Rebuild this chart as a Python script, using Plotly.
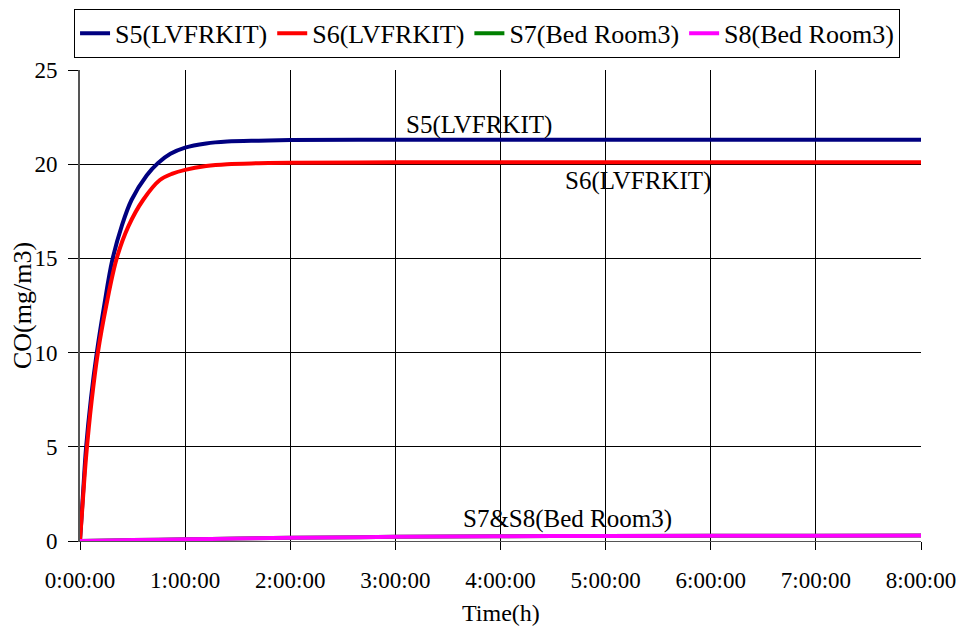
import plotly.graph_objs as go

# Time in hours, CO concentration in mg/m3
t_s5 = [0, 0.032, 0.057, 0.105, 0.16, 0.23, 0.307, 0.396, 0.49, 0.634, 0.74, 0.86, 1.0, 1.2, 1.4, 1.7, 2.0, 3, 4, 5, 6, 7, 8]
co_s5 = [0, 2.8, 4.9, 7.6, 10.0, 12.5, 14.9, 16.7, 18.1, 19.4, 20.05, 20.55, 20.88, 21.1, 21.2, 21.25, 21.28, 21.3, 21.3, 21.3, 21.3, 21.3, 21.3]

t_s6 = [0, 0.034, 0.06, 0.11, 0.17, 0.25, 0.349, 0.46, 0.60, 0.76, 0.88, 1.0, 1.2, 1.4, 1.7, 2.0, 3, 4, 5, 6, 7, 8]
co_s6 = [0, 2.7, 4.6, 7.4, 10.0, 12.5, 15.0, 16.7, 18.1, 19.16, 19.5, 19.7, 19.9, 20.0, 20.05, 20.08, 20.1, 20.1, 20.1, 20.1, 20.1, 20.1]

t_bed = [0, 0.5, 1, 1.5, 2, 3, 4, 5, 6, 7, 8]
co_s7 = [0, 0.05, 0.09, 0.13, 0.17, 0.22, 0.25, 0.27, 0.28, 0.285, 0.29]
co_s8 = [0, 0.05, 0.09, 0.13, 0.17, 0.22, 0.25, 0.27, 0.28, 0.285, 0.29]

hour_ticks = [0, 1, 2, 3, 4, 5, 6, 7, 8]
hour_labels = ['0:00:00', '1:00:00', '2:00:00', '3:00:00', '4:00:00',
               '5:00:00', '6:00:00', '7:00:00', '8:00:00']

font = 'Liberation Serif, Times New Roman, serif'

fig = go.Figure()
fig.add_trace(go.Scatter(x=t_s5, y=co_s5, name='S5(LVFRKIT)', mode='lines',
                         line=dict(color='#000080', width=4, shape='spline')))
fig.add_trace(go.Scatter(x=t_s6, y=co_s6, name='S6(LVFRKIT)', mode='lines',
                         line=dict(color='#FF0000', width=4, shape='spline')))
fig.add_trace(go.Scatter(x=t_bed, y=co_s7, name='S7(Bed Room3)', mode='lines',
                         line=dict(color='#008000', width=4, shape='spline')))
fig.add_trace(go.Scatter(x=t_bed, y=co_s8, name='S8(Bed Room3)', mode='lines',
                         line=dict(color='#FF00FF', width=4, shape='spline')))

# in-chart labels
fig.add_annotation(x=3.8, y=22.1, text='S5(LVFRKIT)', showarrow=False, font=dict(size=25))
fig.add_annotation(x=5.31, y=19.1, text='S6(LVFRKIT)', showarrow=False, font=dict(size=25))
fig.add_annotation(x=4.64, y=1.17, text='S7&S8(Bed Room3)', showarrow=False, font=dict(size=25))

# x axis title as a paper annotation (standoff is ignored without automargin)
fig.add_annotation(x=0.5, y=-0.153, xref='paper', yref='paper', text='Time(h)',
                   showarrow=False, yanchor='middle', font=dict(family=font, size=24))

# the page puts the figure 8px in from the top-left, so size/margins allow for that
fig.update_layout(
    width=950, height=621,
    margin=dict(l=72, r=37, t=62, b=88, autoexpand=False),
    paper_bgcolor='white', plot_bgcolor='white',
    font=dict(family=font, size=22, color='black'),
    legend=dict(orientation='h', x=0.484, xanchor='center', y=1.13, yanchor='top',
                bordercolor='black', borderwidth=1, font=dict(size=26),
                itemwidth=30, tracegroupgap=0),
    xaxis=dict(range=[0, 8],
               tickvals=hour_ticks, ticktext=hour_labels, automargin=False,
               tickfont=dict(size=23), ticklabelstandoff=10,
               showgrid=True, gridcolor='black', gridwidth=1,
               showline=True, linecolor='#555555', linewidth=1,
               ticks='outside', ticklen=8, tickcolor='black', zeroline=False),
    yaxis=dict(title=dict(text='CO(mg/m3)', standoff=12), range=[0, 25], dtick=5,
               automargin=False, tickfont=dict(size=23), ticklabelstandoff=6,
               showgrid=True, gridcolor='black', gridwidth=1,
               showline=True, linecolor='#555555', linewidth=2,
               ticks='outside', ticklen=10, tickcolor='black', zeroline=False),
)

fig.write_html("out.html")
